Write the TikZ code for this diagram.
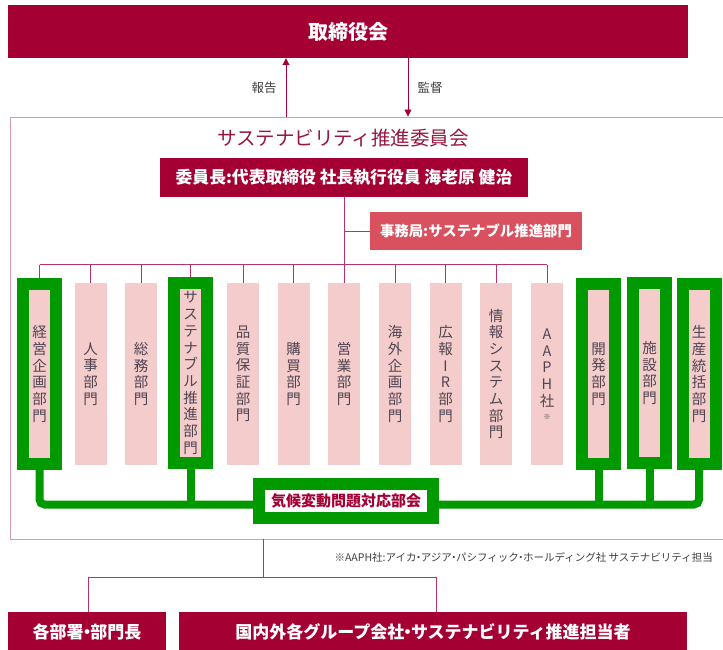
\documentclass[tikz,border=0pt]{standalone}
\usepackage{fontspec}
\setmainfont{Noto Sans CJK JP}
\usetikzlibrary{arrows.meta}
\definecolor{maroon}{HTML}{A50034}
\definecolor{secred}{HTML}{D9515F}
\definecolor{pinkbox}{HTML}{F4CCCC}
\definecolor{gr}{HTML}{009900}
\definecolor{framec}{HTML}{D89AAD}
\definecolor{conn}{HTML}{B8326A}
\definecolor{titlec}{HTML}{96183F}
\definecolor{vtextc}{HTML}{4F4450}
\newcommand{\nd}{\makebox[0.4em][c]{・}}
\begin{document}
\begin{tikzpicture}[x=1pt,y=-1pt,
  redbox/.style={fill=maroon,text=white,font=\bfseries,inner sep=0pt},
  pbox/.style={fill=pinkbox,minimum width=32pt,minimum height=182pt,inner sep=0pt,
    align=center,text=vtextc,font=\fontsize{14.5}{16.7}\selectfont},
  gbox/.style={pbox,draw=gr,line width=12pt,minimum width=33pt,minimum height=180pt},
  cline/.style={draw=conn,line width=0.9pt},
  gline/.style={draw=gr,line width=8pt},
  arr/.style={draw=maroon,line width=0.9pt,-{Triangle[length=7pt,width=7pt]}},
  lbl/.style={text=black!75,font=\fontsize{12.5}{14}\selectfont,inner sep=0pt}]
\clip (0,0) rectangle (723,649);
\fill[white] (0,0) rectangle (723,649);
% outer frame
\node[draw=framec,line width=0.9pt,minimum width=740pt,minimum height=422pt,inner sep=0pt,anchor=north west] (frame) at (9.5,116.5) {};
% top box
\node[redbox,minimum width=680pt,minimum height=53pt,font=\bfseries\fontsize{20}{22}\selectfont] (board) at (348,31.5) {取締役会};
\coordinate (up) at (286,116.5);
\coordinate (dn) at (408,116.5);
\draw[arr] (up) -- (up |- board.south);
\draw[arr] (dn |- board.south) -- (dn);
\node[lbl] (rep) at (264,88) {報告};
\node[lbl] (sup) at (430,88) {監督};
% title
\node[text=titlec,inner sep=0pt,font=\fontsize{19.5}{22}\selectfont] (title) at (343,138) {サステナビリティ推進委員会};
\node[redbox,minimum width=368pt,minimum height=39pt,font=\bfseries\fontsize{16.8}{19}\selectfont] (chair) at (344,177.5) {委員長:代表取締役 社長執行役員 海老原 健治};
\node[fill=secred,text=white,inner sep=0pt,minimum width=212pt,minimum height=38pt,font=\bfseries\fontsize{14.4}{16}\selectfont] (sec) at (476,231) {事務局:サステナブル推進部門};
% departments
\node[gbox] (g1) at (39.5,374) {経\\営\\企\\画\\部\\門};
\node[pbox] (b2) at (90.5,374) {人\\事\\部\\門};
\node[pbox] (b3) at (141,374) {総\\務\\部\\門};
\node[gbox] (g4) at (190.5,373) {サ\\ス\\テ\\ナ\\ブ\\ル\\推\\進\\部\\門};
\node[pbox] (b5) at (243,374) {品\\質\\保\\証\\部\\門};
\node[pbox] (b6) at (293.5,374) {購\\買\\部\\門};
\node[pbox] (b7) at (344,374) {営\\業\\部\\門};
\node[pbox] (b8) at (395,374) {海\\外\\企\\画\\部\\門};
\node[pbox] (b9) at (445.5,374) {広\\報\\I\\R\\部\\門};
\node[pbox] (b10) at (496,374) {情\\報\\シ\\ス\\テ\\ム\\部\\門};
\node[pbox] (b11) at (547,374) {A\\A\\P\\H\\社\\[-4pt]{\fontsize{7}{8}\selectfont ※}};
\node[gbox] (g12) at (598.5,374) {開\\発\\部\\門};
\node[gbox] (g13) at (649.5,373) {施\\設\\部\\門};
\node[gbox] (g14) at (699,374) {生\\産\\統\\括\\部\\門};
% connectors
\coordinate (busL) at (39.5,264.5);
\coordinate (busR) at (547,264.5);
\draw[cline] (chair.south) -- (chair.south |- busL);
\draw[cline] (chair.south |- sec.west) -- (sec.west);
\draw[cline] (busL) -- (busR);
\foreach \n in {g1,b2,b3,g4,b5,b6,b7,b8,b9,b10,b11}{
  \draw[cline] (\n.north |- busL) -- (\n.north);
}
% green network
\coordinate (gl) at (0,504.5);
\draw[gline,rounded corners=5pt] (g1.south) -- (g1.south |- gl) -- (g14.south |- gl) -- (g14.south);
\draw[gline] (g4.south) -- (g4.south |- gl);
\draw[gline] (g12.south) -- (g12.south |- gl);
\draw[gline] (g13.south) -- (g13.south |- gl);
\node[draw=gr,fill=white,line width=12pt,minimum width=174pt,minimum height=34pt,inner sep=0pt,
  text=maroon,font=\bfseries\fontsize{15}{17}\selectfont] (kikou) at (346,500.5) {気候変動問題対応部会};
% footnote
\node[text=black!75,inner sep=0pt,anchor=east,font=\fontsize{10.5}{12}\selectfont] (note) at (713,557) {※AAPH社:アイカ\nd アジア\nd パシフィック\nd ホールディング社 サステナビリティ担当};
% bottom
\node[redbox,minimum width=158pt,minimum height=40pt,font=\bfseries\fontsize{17}{19}\selectfont] (depts) at (87,632) {各部署\nd 部門長};
\node[redbox,minimum width=508pt,minimum height=40pt,font=\bfseries\fontsize{17}{19}\selectfont] (group) at (433,632) {国内外各グループ会社\nd サステナビリティ推進担当者};
\coordinate (fb) at (263,538.5);
\coordinate (hb) at (263,577);
\draw[cline] (fb) -- (hb);
\draw[cline] (depts.north -| 88,0) |- (hb);
\draw[cline] (group.north -| 436,0) |- (hb);
\end{tikzpicture}
\end{document}
